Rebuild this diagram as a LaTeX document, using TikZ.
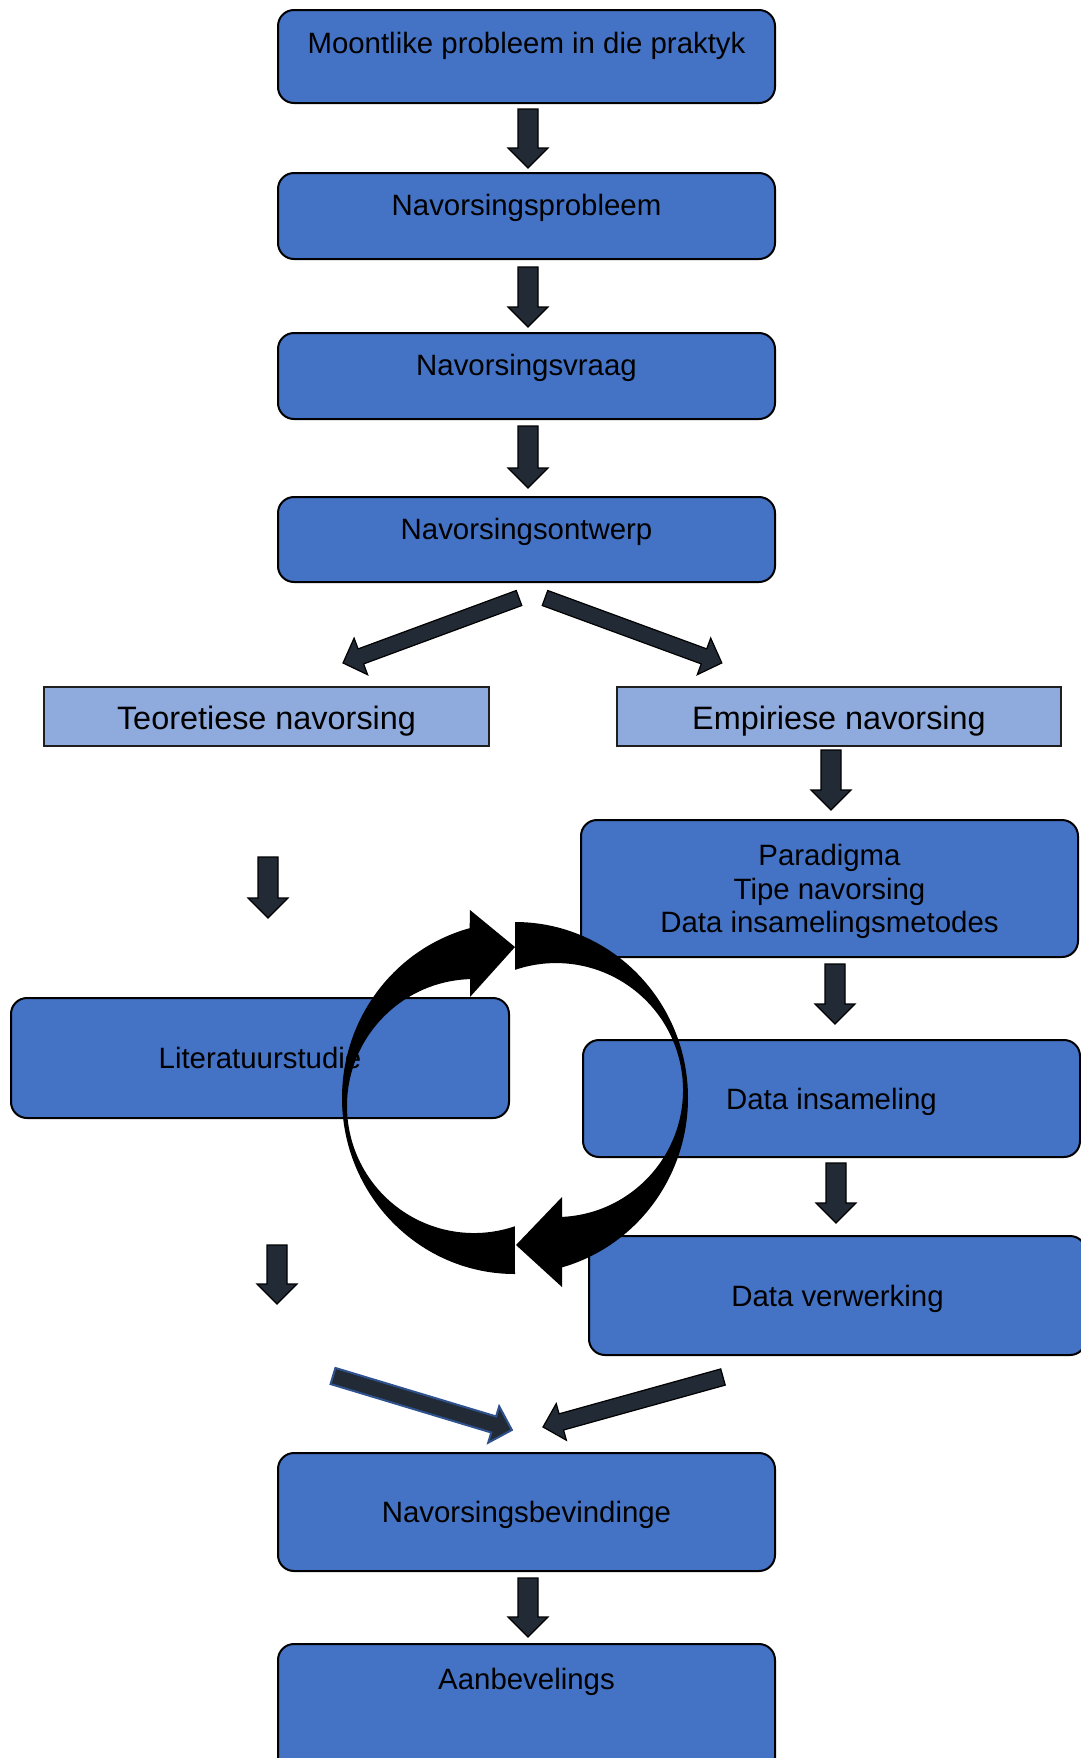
\documentclass[tikz,border=0pt]{standalone}
\usepackage{fontspec}
\setmainfont{Liberation Sans}
\usetikzlibrary{calc}
\definecolor{boxblue}{HTML}{4472C4}
\definecolor{lightblue}{HTML}{8FAADC}
\definecolor{arrowfill}{HTML}{222A35}
\definecolor{arrowblue}{HTML}{2F528F}
\definecolor{edgegray}{HTML}{1F1F1F}
\newcommand\fsnorm{\fontsize{14.7pt}{16.75pt}\selectfont}
\newcommand\fslarge{\fontsize{16.2pt}{19pt}\selectfont}
% block arrow: [style]{tail}{tip}{shaft half width}{head half width}{head length}
\newcommand\blockarrow[6][]{%
  \path[barrowstyle,#1] let \p1=(#2), \p2=(#3),
    \n1={atan2(\y2-\y1,\x2-\x1)}, \n2={veclen(\x2-\x1,\y2-\y1)} in
    [shift={(\p1)}, rotate=\n1, x=1pt, y=1pt]
    (0,-#4) -- ({\n2-#6},-#4) -- ({\n2-#6},-#5) -- (\n2,0)
    -- ({\n2-#6},#5) -- ({\n2-#6},#4) -- (0,#4) -- cycle;}
\begin{document}
\begin{tikzpicture}[x=0.5pt,y=-0.5pt,
  boxbase/.style={draw=black, line width=1pt, fill=boxblue, rounded corners=8pt,
    minimum width=248.5pt, inner sep=0pt, font=\fsnorm},
  box/.style={boxbase, text height=13.9pt, text depth=3pt},
  topbox/.style={box, text depth=14pt},
  lightbox/.style={draw=edgegray, line width=1.2pt, fill=lightblue, inner sep=0pt,
    minimum width=222.5pt, minimum height=29.5pt, font=\fslarge,
    text height=16pt, text depth=3.3pt},
  barrowstyle/.style={draw=black, line width=0.6pt, fill=arrowfill, line join=miter},
  circarrow/.style={fill=black}]
\useasboundingbox (0,0) rectangle (1081,1758);
\fill[white] (0,0) rectangle (1081,1758);
\clip (0,0) rectangle (1081,1758);

% boxes
\node[topbox, minimum height=46.5pt, text depth=16.5pt] (b1) at (526.5,56.5) {Moontlike probleem in die praktyk};
\node[topbox, minimum height=43pt] (b2) at (526.5,216) {Navorsingsprobleem};
\node[topbox, minimum height=43pt] (b3) at (526.5,376) {Navorsingsvraag};
\node[topbox, minimum height=42.5pt] (b4) at (526.5,539.5) {Navorsingsontwerp};
\node[lightbox] (teo) at (266.5,716.5) {Teoretiese navorsing};
\node[lightbox, minimum width=222pt] (emp) at (839,716.5) {Empiriese navorsing};
\node[boxbase, minimum height=68.5pt, align=center] (par) at (829.5,888.5)
  {\rule{0pt}{13.9pt}Paradigma\\Tipe navorsing\\Data insamelingsmetodes};
\node[box, minimum height=58.5pt] (din) at (831.5,1098.5) {Data insameling};
\node[box, minimum height=59.5pt] (dver) at (837.5,1295.5) {Data verwerking};
\node[box, minimum height=60pt, minimum width=249pt] (lit) at (260,1058) {Literatuurstudie};
\node[box, minimum height=59pt] (bev) at (526.5,1512) {Navorsingsbevindinge};
\node[box, minimum height=73pt, text depth=41pt] (aan) at (526.5,1717) {Aanbevelings};

% arrow end points
\coordinate (v1a) at (528,109);  \coordinate (v1b) at (528,168);
\coordinate (v2a) at (528,267);  \coordinate (v2b) at (528,327);
\coordinate (v3a) at (528,426);  \coordinate (v3b) at (528,488);
\coordinate (dla) at (519,598);  \coordinate (dlb) at (343,663);
\coordinate (dra) at (545,598);  \coordinate (drb) at (722,663);
\coordinate (v4a) at (831,750);  \coordinate (v4b) at (831,810);
\coordinate (v5a) at (835,964);  \coordinate (v5b) at (835,1024);
\coordinate (v6a) at (836,1163); \coordinate (v6b) at (836,1223);
\coordinate (l1a) at (268,857);  \coordinate (l1b) at (268,918);
\coordinate (l2a) at (277,1245); \coordinate (l2b) at (277,1304);
\coordinate (bla) at (333,1376); \coordinate (blb) at (512,1430);
\coordinate (bra) at (723,1377); \coordinate (brb) at (543,1427);
\coordinate (v7a) at (528,1578); \coordinate (v7b) at (528,1637);

% block arrows
\blockarrow{v1a}{v1b}{5}{10}{10}
\blockarrow{v2a}{v2b}{5}{10}{10}
\blockarrow{v3a}{v3b}{5}{10}{10}
\blockarrow{dla}{dlb}{4}{9.75}{9.5}
\blockarrow{dra}{drb}{4}{9.75}{9.5}
\blockarrow{v4a}{v4b}{5}{10}{10}
\blockarrow{v5a}{v5b}{5}{10}{10}
\blockarrow{v6a}{v6b}{5}{10}{10}
\blockarrow{l1a}{l1b}{5}{10}{10}
\blockarrow{l2a}{l2b}{5}{10}{10}
\blockarrow[draw=arrowblue, line width=1pt]{bla}{blb}{4.2}{9.5}{9.5}
\blockarrow{bra}{brb}{4.2}{9.5}{9.5}
\blockarrow{v7a}{v7b}{5}{10}{10}

% circular arrows
\fill[circarrow] (515,1274) arc[start angle=90, end angle=254.8, x radius=173, y radius=176]
  -- (470,910) -- (515,947) -- (470,997) -- (470,979.1)
  arc[start angle=268.2, end angle=71.2, radius=127] -- cycle;
\fill[circarrow] (515,922) arc[start angle=270, end angle=434.2, x radius=173, y radius=176]
  -- (562,1287) -- (516,1245) -- (562,1197) -- (562,1216.9)
  arc[start angle=87.3, end angle=-108.8, radius=127] -- cycle;
\end{tikzpicture}
\end{document}
